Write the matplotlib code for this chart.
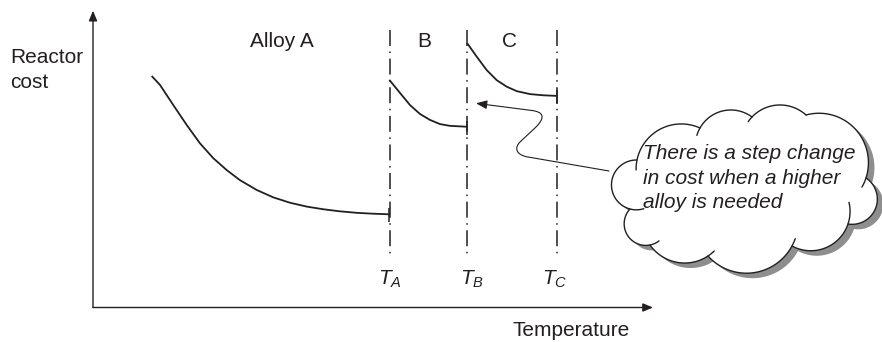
import numpy as np
import matplotlib
matplotlib.use("Agg")
import matplotlib.pyplot as plt
from matplotlib.path import Path
from matplotlib.patches import FancyArrowPatch, Polygon, PathPatch
from matplotlib.transforms import Affine2D

plt.rcParams['font.family'] = ['Liberation Sans', 'DejaVu Sans']
plt.rcParams['mathtext.fontset'] = 'custom'
plt.rcParams['mathtext.rm'] = 'Liberation Sans'
plt.rcParams['mathtext.it'] = 'Liberation Sans:italic'
plt.rcParams['lines.scale_dashes'] = False

# ---------------- data (arbitrary units) ----------------
alloy_a_temp = [10.48, 11.96, 14.34, 16.73, 19.11, 21.48, 23.88, 26.25, 29.23,
                32.20, 35.18, 38.16, 41.13, 44.11, 47.09, 50.05, 52.91]
alloy_a_cost = [78.0, 75.0, 68.2, 61.5, 55.3, 50.3, 46.3, 42.9, 39.6,
                37.1, 35.3, 34.0, 33.1, 32.4, 31.9, 31.6, 31.4]

alloy_b_temp = [52.91, 54.82, 56.61, 58.39, 60.18, 61.96, 63.75, 66.84]
alloy_b_cost = [76.7, 72.3, 68.2, 65.2, 63.2, 61.8, 61.2, 60.9]

alloy_c_temp = [66.84, 68.52, 70.30, 72.09, 73.88, 75.66, 78.04, 80.41, 82.80]
alloy_c_cost = [89.0, 84.5, 80.0, 76.6, 74.4, 72.9, 71.9, 71.5, 71.3]

threshold_temps = [52.95, 66.84, 82.82]
threshold_labels = ['$T_A$', '$T_B$', '$T_C$']
region_labels = ['Alloy A', 'B', 'C']
region_label_x = [33.7, 59.2, 74.4]

y_label_lines = ['Reactor', 'cost']
x_label = 'Temperature'
cloud_lines = ['There is a step change', 'in cost when a higher', 'alloy is needed']

INK = '#231f20'
FS = 15

W, H, DPI = 882, 342, 100
fig = plt.figure(figsize=(W / DPI, H / DPI), dpi=DPI)
fig.patch.set_facecolor('white')
ax = fig.add_axes([93 / W, (H - 307.5) / H, 560 / W, 296.8 / H])
ax.set_xlim(0, 100)
ax.set_ylim(0, 100)
ax.axis('off')

# pixel transform (origin top-left) for decoration
pix = Affine2D().scale(1 / DPI, -1 / DPI).translate(0, H / DPI) + fig.dpi_scale_trans

# axes with arrows
arrow_kw = dict(arrowstyle='-|>,head_length=0.6,head_width=0.25', lw=1.0,
                color=INK, shrinkA=0, shrinkB=0, mutation_scale=10)
ax.annotate('', xy=(0, 100), xytext=(0, 0), arrowprops=arrow_kw, annotation_clip=False)
ax.annotate('', xy=(100, 0), xytext=(0, 0), arrowprops=arrow_kw, annotation_clip=False)

# threshold dash-dot lines
line_top, line_bottom = 93.5, 17.35
for t in threshold_temps:
    ax.plot([t, t], [line_top, line_bottom], color=INK, lw=1.1,
            linestyle=(0, (11.5, 4.0, 1.1, 4.0)), dash_capstyle='butt')

# cost curves with end ticks
for xs, ys in [(alloy_a_temp, alloy_a_cost), (alloy_b_temp, alloy_b_cost),
               (alloy_c_temp, alloy_c_cost)]:
    ax.plot(xs, ys, color=INK, lw=1.3, solid_capstyle='butt', solid_joinstyle='round')
    ax.plot([xs[-1], xs[-1]], [ys[-1] + 2.0, ys[-1] - 2.7], color=INK, lw=1.1,
            solid_capstyle='butt')

# labels
ax.text(-14.8, 82.3, y_label_lines[0], fontsize=FS, color=INK, ha='left', va='baseline')
ax.text(-14.8, 73.9, y_label_lines[1], fontsize=FS, color=INK, ha='left', va='baseline')
for lx, lab in zip(region_label_x, region_labels):
    ax.text(lx, 87.8, lab, fontsize=FS, color=INK, ha='center', va='baseline')
for t, lab, dx in zip(threshold_temps, threshold_labels, [0.1, 0.9, -0.3]):
    ax.text(t + dx, 7.6, lab, fontsize=FS, color=INK, ha='center', va='baseline')
ax.text(85.3, -9.6, x_label, fontsize=FS, color=INK, ha='center', va='baseline')

# connector from cloud to the step
verts = [(609, 171), (528, 157),
         (516, 155), (514, 148), (520, 142),
         (536, 127),
         (546, 117), (543, 112), (532, 110.5),
         (476, 103.3)]
codes = [Path.MOVETO, Path.LINETO,
         Path.CURVE4, Path.CURVE4, Path.CURVE4,
         Path.LINETO,
         Path.CURVE4, Path.CURVE4, Path.CURVE4,
         Path.LINETO]
conn = FancyArrowPatch(path=Path(verts, codes),
                       arrowstyle='-|>,head_length=0.55,head_width=0.22',
                       mutation_scale=12, lw=0.8, color=INK, transform=pix,
                       shrinkA=0, shrinkB=0, zorder=2)
fig.add_artist(conn)

# cloud (pixel geometry)
centroid = np.array([745.0, 190.0])
bumps = [  # start, end, sag, ext_start, ext_end
    ((630, 209), (637, 160), 22, 14, 0),
    ((637, 160), (700, 128), 17, 10, 0),
    ((700, 128), (752, 117), 12, 8, 0),
    ((752, 117), (806, 115), 11, 6, 0),
    ((806, 115), (866, 178), 26, 0, 10),
    ((866, 178), (848, 224), 20, 0, 0),
    ((848, 224), (792, 246), 14, 22, 0),
    ((792, 246), (708, 256), 22, 8, 0),
    ((708, 256), (650, 245), 12, 8, 0),
    ((650, 245), (630, 209), 15, 10, 0),
]


def arc_points(a, b, sag, ext_a=0.0, ext_b=0.0, n=40):
    a = np.array(a, float)
    b = np.array(b, float)
    chord = np.linalg.norm(b - a)
    mid = (a + b) / 2
    nrm = np.array([-(b - a)[1], (b - a)[0]]) / chord
    if np.dot(nrm, mid - centroid) < 0:
        nrm = -nrm
    r = (chord ** 2 / 4 + sag ** 2) / (2 * sag)
    ctr = mid + nrm * (sag - r)
    peak = mid + nrm * sag
    ta = np.arctan2(*(a - ctr)[::-1])
    tb = np.arctan2(*(b - ctr)[::-1])
    tp = np.arctan2(*(peak - ctr)[::-1])
    d1 = (tb - ta) % (2 * np.pi)
    if (tp - ta) % (2 * np.pi) < d1:
        sweep = d1
    else:
        sweep = -(2 * np.pi - d1)
    sgn = np.sign(sweep)
    t0 = ta - sgn * ext_a / r
    t1 = ta + sweep + sgn * ext_b / r
    th = np.linspace(t0, t1, n)
    return np.column_stack([ctr[0] + r * np.cos(th), ctr[1] + r * np.sin(th)])


body = np.vstack([arc_points(a, b, s) for a, b, s, _, _ in bumps])
shadow = Polygon(body + np.array([6.0, 5.0]), closed=True, facecolor='#8e8e8e',
                 edgecolor='none', transform=pix, zorder=3)
fill = Polygon(body, closed=True, facecolor='white', edgecolor='none',
               transform=pix, zorder=4)
fig.add_artist(shadow)
fig.add_artist(fill)
for a, b, s, ea, eb in bumps:
    pts = arc_points(a, b, s, ea, eb)
    fig.add_artist(PathPatch(Path(pts), facecolor='none', edgecolor=INK, lw=1.0,
                             transform=pix, zorder=5, capstyle='round'))

for i, line in enumerate(cloud_lines):
    fig.text(643, 159.3 + 24.5 * i, line, fontsize=FS, style='italic', color=INK,
             ha='left', va='baseline', transform=pix, zorder=6)

fig.savefig('out.png', dpi=DPI, facecolor='white')
